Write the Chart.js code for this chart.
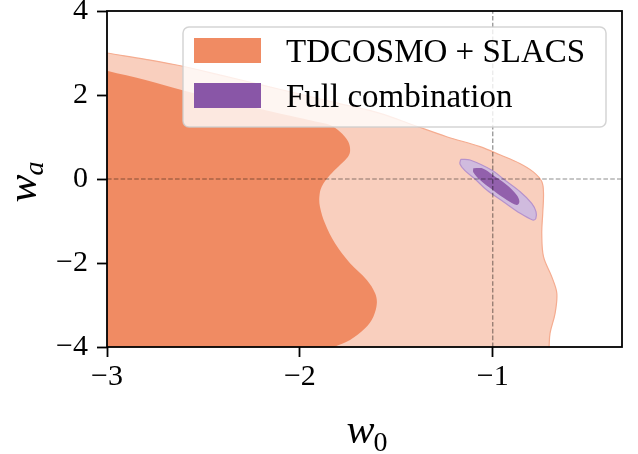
<!DOCTYPE html>
<html>
<head>
<meta charset="utf-8">
<script src="https://cdn.jsdelivr.net/npm/chart.js@4/dist/chart.umd.min.js"></script>
<style>
  html, body { margin: 0; padding: 0; background: #fff; }
  #wrap { width: 638px; height: 454px; position: relative; }
</style>
</head>
<body>
<div id="wrap"><canvas id="c" width="638" height="454"></canvas></div>
<script>
// ---------- data ----------
const w0Ticks = [-3, -2, -1];
const waTicks = [-4, -2, 0, 2, 4];
const w0Range = [-3, -0.33];
const waRange = [-4, 4];
const refW0 = -1;
const refWa = 0;

const seriesLabels = ['TDCOSMO + SLACS', 'Full combination'];

// TDCOSMO + SLACS, 95% contour (outer)
const outerW0 = [-3.2, -3.0, -2.8, -2.613, -2.4, -2.2, -2.0, -1.8, -1.584, -1.413, -1.239, -1.066, -0.96, -0.86, -0.79, -0.746, -0.737, -0.741, -0.746, -0.737, -0.694, -0.668, -0.677, -0.703, -0.708, -0.71, -3.2, -3.2];
const outerWa = [3.16, 3.0, 2.85, 2.69, 2.46, 2.24, 2.02, 1.80, 1.564, 1.286, 1.007, 0.77, 0.57, 0.37, 0.17, -0.06, -0.34, -0.82, -1.29, -1.85, -2.33, -2.72, -3.20, -3.67, -4.0, -4.3, -4.3, 3.16];

// TDCOSMO + SLACS, 68% contour (inner)
const innerW0 = [-3.2, -3.0, -2.8, -2.613, -2.4, -2.2, -2.0, -1.92, -1.844, -1.792, -1.749, -1.740, -1.757, -1.801, -1.844, -1.887, -1.899, -1.896, -1.870, -1.818, -1.740, -1.653, -1.610, -1.601, -1.619, -1.662, -1.740, -1.827, -1.95, -3.2, -3.2];
const innerWa = [2.82, 2.58, 2.36, 2.12, 1.88, 1.66, 1.45, 1.37, 1.286, 1.127, 0.889, 0.651, 0.492, 0.294, 0.095, -0.183, -0.421, -0.659, -1.056, -1.532, -2.008, -2.405, -2.722, -2.96, -3.278, -3.556, -3.833, -4.008, -4.25, -4.3, 2.82];

// Full combination, 95% contour
const fullOuterW0 = [-1.166, -1.118, -1.0, -0.945, -0.858, -0.798, -0.776, -0.777, -0.793, -0.858, -0.945, -1.031, -1.092, -1.144, -1.170, -1.166];
const fullOuterWa = [0.468, 0.452, 0.198, 0.0, -0.302, -0.579, -0.778, -0.944, -0.976, -0.817, -0.540, -0.262, 0.0, 0.198, 0.357, 0.468];

// Full combination, 68% contour
const fullInnerW0 = [-1.101, -1.049, -1.0, -0.927, -0.876, -0.862, -0.876, -0.927, -1.0, -1.066, -1.101, -1.101];
const fullInnerWa = [0.254, 0.246, 0.095, -0.143, -0.381, -0.540, -0.619, -0.5, -0.262, -0.024, 0.159, 0.254];

// ---------- styles ----------
const orangeDark = 'rgb(240,139,99)';
const orangeLight = 'rgb(249,207,190)';
const orangeEdge = 'rgb(245,172,144)';
const purpleDark = 'rgb(137,86,167)';
const purpleInner = 'rgb(146,96,172)';
const purpleLight = 'rgb(208,187,222)';
const purpleEdge = 'rgb(182,146,204)';
const SERIF = '"Liberation Serif", "Times New Roman", serif';

const zip = (xs, ys) => xs.map((x, i) => ({x: x, y: ys[i]}));
const fmt = v => (v < 0 ? '\u2212' + Math.abs(v) : String(v));

const contour = (label, xs, ys, fillColor, edgeColor, edgeWidth, order) => ({
  label: label,
  data: zip(xs, ys),
  backgroundColor: fillColor,
  borderColor: edgeColor,
  borderWidth: edgeWidth,
  fill: 'shape',
  tension: 0.35,
  pointRadius: 0,
  pointHoverRadius: 0,
  clip: 0,
  order: order
});

const refLine = (xs, ys, order) => ({
  label: '',
  data: zip(xs, ys),
  borderColor: 'rgba(0,0,0,0.45)',
  borderWidth: 1.2,
  borderDash: [4.6, 2.2],
  fill: false,
  tension: 0,
  pointRadius: 0,
  clip: 0,
  order: order
});

const datasets = [
  refLine([refW0, refW0], [waRange[0], waRange[1]], 1),
  refLine([w0Range[0], w0Range[1]], [refWa, refWa], 1),
  contour(seriesLabels[1], fullInnerW0, fullInnerWa, purpleInner, purpleInner, 0, 2),
  contour(seriesLabels[1], fullOuterW0, fullOuterWa, purpleLight, purpleEdge, 1.2, 3),
  contour(seriesLabels[0], innerW0, innerWa, orangeDark, orangeDark, 0, 4),
  contour(seriesLabels[0], outerW0, outerWa, orangeLight, orangeEdge, 1.2, 5)
];

// ---------- custom drawing: frame, legend, axis titles ----------
const decorPlugin = {
  id: 'decor',
  afterDatasetsDraw(chart) {
    const ctx = chart.ctx;
    const a = chart.chartArea;
    // legend box
    const L = a.left + 76, T = a.top + 16, R = a.right - 16, B = a.top + 116;
    ctx.save();
    ctx.beginPath();
    if (ctx.roundRect) ctx.roundRect(L, T, R - L, B - T, 6); else ctx.rect(L, T, R - L, B - T);
    ctx.fillStyle = 'rgba(255,255,255,0.8)';
    ctx.fill();
    ctx.lineWidth = 1.5;
    ctx.strokeStyle = 'rgba(204,204,204,0.85)';
    ctx.stroke();
    const patches = [orangeDark, purpleDark];
    ctx.font = '33px ' + SERIF;
    ctx.textBaseline = 'alphabetic';
    ctx.textAlign = 'left';
    for (let i = 0; i < 2; i++) {
      const py = T + 11 + i * 45;
      ctx.fillStyle = patches[i];
      ctx.fillRect(L + 11, py, 67, 25);
      ctx.fillStyle = '#000';
      ctx.fillText(seriesLabels[i], L + 103, py + 12.5 + 11);
    }
    ctx.restore();
  },
  afterDraw(chart) {
    const ctx = chart.ctx;
    const a = chart.chartArea;
    ctx.save();
    // frame
    ctx.strokeStyle = '#000';
    ctx.lineWidth = 1.8;
    ctx.strokeRect(a.left, a.top, a.right - a.left, a.bottom - a.top);
    // x title  w_0
    ctx.fillStyle = '#000';
    ctx.textBaseline = 'alphabetic';
    ctx.textAlign = 'left';
    const mainFont = 'italic 42px ' + SERIF;
    ctx.font = mainFont;
    const wW = ctx.measureText('w').width;
    ctx.font = '28px ' + SERIF;
    const s0W = ctx.measureText('0').width;
    let cx = (a.left + a.right) / 2 + 3;
    let sx = cx - (wW + s0W) / 2;
    ctx.font = mainFont;
    ctx.fillText('w', sx, a.bottom + 96);
    ctx.font = '28px ' + SERIF;
    ctx.fillText('0', sx + wW - 1, a.bottom + 104);
    // y title  w_a
    ctx.font = 'italic 28px ' + SERIF;
    const saW = ctx.measureText('a').width;
    ctx.translate(a.left - 71, (a.top + a.bottom) / 2 + 2.5);
    ctx.rotate(-Math.PI / 2);
    sx = -(wW + saW) / 2;
    ctx.font = mainFont;
    ctx.fillText('w', sx, 0);
    ctx.font = 'italic 28px ' + SERIF;
    ctx.fillText('a', sx + wW - 1, 7);
    ctx.restore();
  }
};

const tickGrid = {
  display: true,
  drawOnChartArea: false,
  drawTicks: true,
  tickLength: 10,
  tickWidth: 1.8,
  tickColor: '#000',
  color: '#000'
};

new Chart(document.getElementById('c'), {
  type: 'line',
  data: { datasets: datasets },
  options: {
    responsive: false,
    animation: false,
    devicePixelRatio: 1,
    layout: { padding: { top: 11, right: 16, left: 0, bottom: 0 } },
    elements: { line: { capBezierPoints: false } },
    plugins: {
      legend: { display: false },
      tooltip: { enabled: false },
      title: { display: false }
    },
    events: [],
    scales: {
      x: {
        type: 'linear',
        min: w0Range[0],
        max: w0Range[1],
        border: { display: false },
        grid: tickGrid,
        ticks: {
          color: '#000',
          font: { family: SERIF, size: 30 },
          padding: 2,
          maxRotation: 0,
          autoSkip: false,
          callback: v => fmt(v)
        },
        afterBuildTicks: s => { s.ticks = w0Ticks.map(v => ({value: v})); },
        afterFit: s => { s.height = 107; s.paddingLeft = 0; s.paddingRight = 0; }
      },
      y: {
        type: 'linear',
        min: waRange[0],
        max: waRange[1],
        border: { display: false },
        grid: tickGrid,
        ticks: {
          color: '#000',
          font: { family: SERIF, size: 30 },
          padding: 9,
          autoSkip: false,
          callback: v => fmt(v)
        },
        afterBuildTicks: s => { s.ticks = waTicks.map(v => ({value: v})); },
        afterFit: s => { s.width = 107; s.paddingTop = 0; s.paddingBottom = 0; }
      }
    }
  },
  plugins: [decorPlugin]
});
</script>
</body>
</html>
